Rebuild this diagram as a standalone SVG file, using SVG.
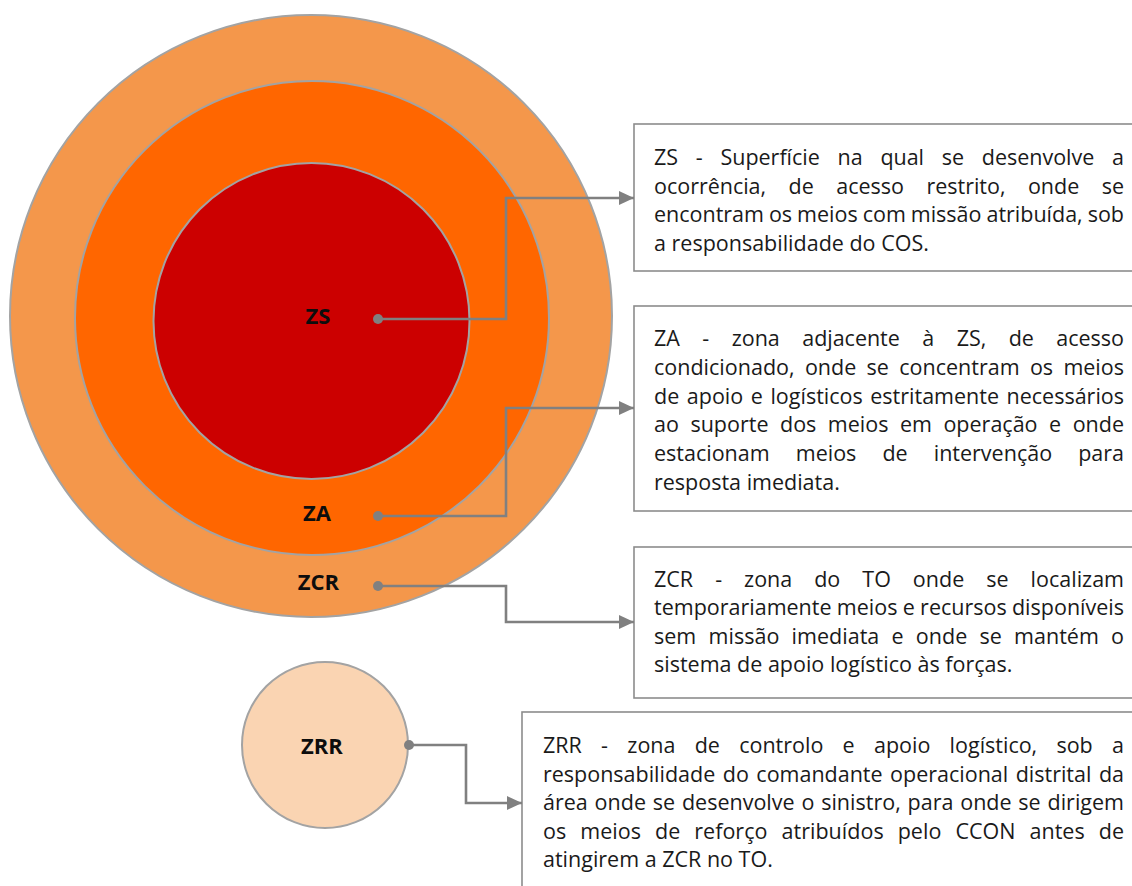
<svg xmlns="http://www.w3.org/2000/svg" width="1132" height="886" viewBox="0 0 1132 886">
<style>
.ring{stroke:#a3a3a3;stroke-width:2}
.lbl{font-family:"Open Sans","Liberation Sans",sans-serif;font-weight:bold;font-size:22px;fill:#0d0d0d;text-anchor:middle}
.box{fill:#ffffff;stroke:#8c8c8c;stroke-width:1.6}
.txt{font-family:"Open Sans","Liberation Sans",sans-serif;font-size:21.5px;fill:#1a1a1a}
.conn{fill:none;stroke:#808080;stroke-width:2.6}
.dot{fill:#808080}
</style>
<defs>
<marker id="arr" markerUnits="userSpaceOnUse" markerWidth="16" markerHeight="16" refX="15" refY="7" orient="auto">
<path d="M0,0 L15,7 L0,14 z" fill="#808080"/>
</marker>
</defs>
<rect width="1132" height="886" fill="#ffffff"/>

<g id="zcr-zone">
<circle class="ring" cx="311" cy="316" r="301" fill="#f4974b"/>
</g>
<g id="za-zone">
<circle class="ring" cx="312" cy="318" r="237" fill="#ff6600"/>
</g>
<g id="zs-zone">
<circle class="ring" cx="311.5" cy="321" r="158" fill="#cc0000"/>
<text class="lbl" x="318" y="324">ZS</text>
</g>
<g id="za-label">
<text class="lbl" x="317" y="521">ZA</text>
</g>
<g id="zcr-label">
<text class="lbl" x="318.5" y="590">ZCR</text>
</g>
<g id="zrr-zone">
<circle class="ring" cx="325" cy="745" r="83" fill="#fad4b2"/>
<text class="lbl" x="322" y="754">ZRR</text>
</g>

<g id="box-zs">
<rect class="box" x="634" y="124" width="520" height="147"/>
<text class="txt" x="654" y="165" word-spacing="12.2" textLength="470" lengthAdjust="spacing">ZS - Superfície na qual se desenvolve a</text>
<text class="txt" x="654" y="193.7" word-spacing="16.9" textLength="470" lengthAdjust="spacing">ocorrência, de acesso restrito, onde se</text>
<text class="txt" x="654" y="222.3" word-spacing="-0.6" textLength="470" lengthAdjust="spacing">encontram os meios com missão atribuída, sob</text>
<text class="txt" x="654" y="251">a responsabilidade do COS.</text>
</g>

<g id="box-za">
<rect class="box" x="634" y="306" width="520" height="205"/>
<text class="txt" x="654" y="346" word-spacing="16.9" textLength="470" lengthAdjust="spacing">ZA - zona adjacente à ZS, de acesso</text>
<text class="txt" x="654" y="374.8" word-spacing="4.7" textLength="470" lengthAdjust="spacing">condicionado, onde se concentram os meios</text>
<text class="txt" x="654" y="403.6" word-spacing="2.0" textLength="470" lengthAdjust="spacing">de apoio e logísticos estritamente necessários</text>
<text class="txt" x="654" y="432.4" word-spacing="5.9" textLength="470" lengthAdjust="spacing">ao suporte dos meios em operação e onde</text>
<text class="txt" x="654" y="461.2" word-spacing="20.5" textLength="470" lengthAdjust="spacing">estacionam meios de intervenção para</text>
<text class="txt" x="654" y="490">resposta imediata.</text>
</g>

<g id="box-zcr">
<rect class="box" x="634" y="547" width="520" height="151"/>
<text class="txt" x="654" y="587" word-spacing="16.4" textLength="470" lengthAdjust="spacing">ZCR - zona do TO onde se localizam</text>
<text class="txt" x="654" y="615.3" word-spacing="-0.3" textLength="470" lengthAdjust="spacing">temporariamente meios e recursos disponíveis</text>
<text class="txt" x="654" y="643.7" word-spacing="6.6" textLength="470" lengthAdjust="spacing">sem missão imediata e onde se mantém o</text>
<text class="txt" x="654" y="672">sistema de apoio logístico às forças.</text>
</g>

<g id="box-zrr">
<rect class="box" x="522" y="712" width="630" height="200"/>
<text class="txt" x="543" y="753" word-spacing="13.7" textLength="581" lengthAdjust="spacing">ZRR - zona de controlo e apoio logístico, sob a</text>
<text class="txt" x="543" y="781.5" word-spacing="1.9" textLength="581" lengthAdjust="spacing">responsabilidade do comandante operacional distrital da</text>
<text class="txt" x="543" y="810" word-spacing="1.2" textLength="581" lengthAdjust="spacing">área onde se desenvolve o sinistro, para onde se dirigem</text>
<text class="txt" x="543" y="838.5" word-spacing="8.4" textLength="581" lengthAdjust="spacing">os meios de reforço atribuídos pelo CCON antes de</text>
<text class="txt" x="543" y="867">atingirem a ZCR no TO.</text>
</g>

<g id="connectors">
<path class="conn" d="M378,319 H506 V198 H634" marker-end="url(#arr)"/>
<path class="conn" d="M378,516 H506 V408 H634" marker-end="url(#arr)"/>
<path class="conn" d="M378,586 H506 V622 H634" marker-end="url(#arr)"/>
<path class="conn" d="M409,745 H466 V803 H522" marker-end="url(#arr)"/>
<circle class="dot" cx="378" cy="319" r="5"/>
<circle class="dot" cx="378" cy="516" r="5"/>
<circle class="dot" cx="378" cy="586" r="5"/>
<circle class="dot" cx="409" cy="745" r="5"/>
</g>
</svg>
